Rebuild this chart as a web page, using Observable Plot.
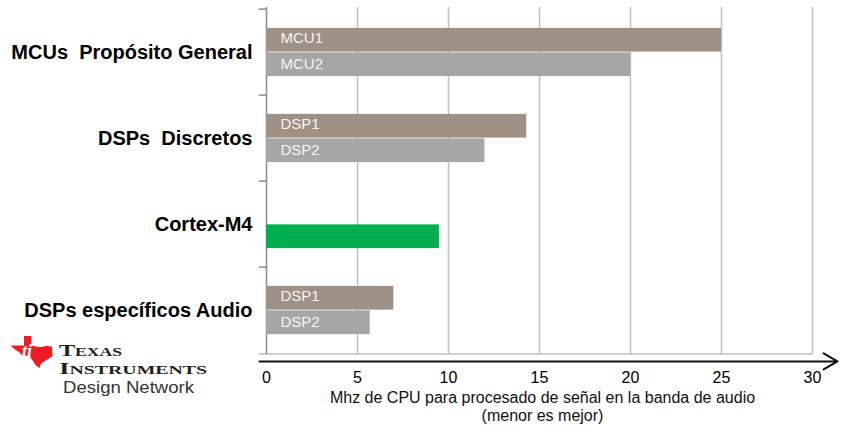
<!DOCTYPE html>
<html>
<head>
<meta charset="utf-8">
<script src="https://cdn.jsdelivr.net/npm/d3@7"></script>
<script src="https://cdn.jsdelivr.net/npm/@observablehq/plot@0.6"></script>
<style>
  body { margin: 0; background: #fff; }
  #wrap { position: relative; width: 845px; height: 426px; overflow: hidden; }
  #logo { position: absolute; left: 0; top: 330px; }
</style>
</head>
<body>
<div id="wrap">
  <div id="chart"></div>
  <svg id="logo" width="230" height="70" viewBox="0 0 230 70">
    <path transform="translate(11,6)" fill="#ee1c25"
      d="M13,0 L20.5,0 L20.5,9.5 L25,10.5 L30,11 L35,10 L41,10.5 L41.5,20 L38,22.5 L34,25 L30,27.5 L28.5,32 L25,29.5 L22,25 L19.5,21.5 L15.5,20 L11.5,19.5 L8,16 L4,13.5 L0,10 L0,9.5 L13,9.5 Z"/>
    <text x="22" y="27" font-family="'Liberation Serif', serif" font-weight="bold" font-style="italic" font-size="18" fill="#fff">ti</text>
    <text x="59" y="25.5" font-family="'Liberation Serif', serif" font-weight="bold" font-size="16.5" style="font-variant: small-caps" fill="#231f20" textLength="63" lengthAdjust="spacingAndGlyphs">Texas</text>
    <text x="59" y="44" font-family="'Liberation Serif', serif" font-weight="bold" font-size="16.5" style="font-variant: small-caps" fill="#231f20" textLength="148" lengthAdjust="spacingAndGlyphs">Instruments</text>
    <text x="63" y="63.3" font-family="'Liberation Sans', Arial, sans-serif" font-size="16.5" fill="#333" textLength="131" lengthAdjust="spacingAndGlyphs">Design Network</text>
  </svg>
</div>
<script>
// ---- data ----
const categories = ["MCUs\u00a0 Propósito General", "DSPs\u00a0 Discretos", "Cortex-M4", "DSPs específicos Audio"];
const barGroup = [0, 0, 1, 1, 2, 3, 3];
const barSlot  = [1, 2, 1, 2, 2, 1, 2];
const barName  = ["MCU1", "MCU2", "DSP1", "DSP2", "", "DSP1", "DSP2"];
const barValue = [25, 20, 14.3, 12, 9.5, 7, 5.7];
const barKind  = ["primero", "segundo", "primero", "segundo", "cortex", "primero", "segundo"];
const kinds    = ["primero", "segundo", "cortex"];
const xTicks   = [0, 5, 10, 15, 20, 25, 30];
const xLabel   = "Mhz de CPU para procesado de señal en la banda de audio\n(menor es mejor)";

// ---- layout ----
const width = 845, height = 426;
const mT = 7, mB = 72, mL = 266, mR = 33;
const bw = (height - mT - mB) / categories.length;
const barH = 24.5;
const pad = (bw - 2 * barH) / 2;
const idx = d3.range(barValue.length);
const s1 = idx.filter(i => barSlot[i] === 1);
const s2 = idx.filter(i => barSlot[i] === 2);
const unitsPerPx = (xTicks[xTicks.length - 1] - xTicks[0]) / (width - mL - mR);
const last = categories[categories.length - 1];
const yOf = i => categories[barGroup[i]];

const chart = Plot.plot({
  width, height,
  marginTop: mT, marginBottom: mB, marginLeft: mL, marginRight: mR,
  style: { fontFamily: "'Liberation Sans', Arial, sans-serif", background: "#fff", overflow: "visible" },
  x: { domain: [xTicks[0], xTicks[xTicks.length - 1]] },
  y: { type: "band", domain: categories, padding: 0 },
  color: { domain: kinds, range: ["#a09187", "#a6a6a6", "#00b050"] },
  marks: [
    Plot.gridX(xTicks.slice(1), { stroke: "#bfbfbf", strokeOpacity: 1, strokeWidth: 1.5 }),
    Plot.ruleY([last], { dy: bw / 2, stroke: "#bfbfbf", strokeWidth: 1.5 }),
    Plot.ruleX([xTicks[0]], { stroke: "#8c8c8c", strokeWidth: 1.5 }),
    Plot.axisY({ tickSize: 7, tickFormat: () => "", dy: -bw / 2, stroke: "#8c8c8c", strokeWidth: 1.5, label: null }),
    Plot.axisY([last], { tickSize: 7, tickFormat: () => "", dy: bw / 2, stroke: "#bfbfbf", strokeWidth: 1.5, label: null }),
    Plot.barX(s1, { x: i => barValue[i], y: yOf, fill: i => barKind[i], insetTop: pad, insetBottom: bw - pad - barH }),
    Plot.barX(s2, { x: i => barValue[i], y: yOf, fill: i => barKind[i], insetTop: pad + barH, insetBottom: pad }),
    Plot.text(s1, { y: yOf, text: i => barName[i], frameAnchor: "left", dx: 14, dy: -barH / 2 - 2, textAnchor: "start", fill: "#f4f4f4", fontSize: 15 }),
    Plot.text(s2, { y: yOf, text: i => barName[i], frameAnchor: "left", dx: 14, dy: barH / 2 - 1, textAnchor: "start", fill: "#f4f4f4", fontSize: 15 }),
    Plot.axisY({ tickSize: 0, tickPadding: 14, fontSize: 20, fontWeight: "bold", fill: "#000", label: null }),
    Plot.axisX(xTicks, { tickSize: 0, tickPadding: 17, fontSize: 16, fill: "#000", label: null }),
    Plot.text([xLabel], { frameAnchor: "bottom", lineAnchor: "top", dy: 35, dx: 3, fontSize: 16, lineHeight: 1.15, fill: "#111" }),
    Plot.arrow([0], {
      x1: () => xTicks[0] - 7 * unitsPerPx,
      x2: () => xTicks[xTicks.length - 1] + 25 * unitsPerPx,
      y1: () => last, y2: () => last,
      dy: bw / 2 + 7.5, stroke: "#111", strokeWidth: 2, headLength: 12
    })
  ]
});
document.getElementById("chart").appendChild(chart);
</script>
</body>
</html>
